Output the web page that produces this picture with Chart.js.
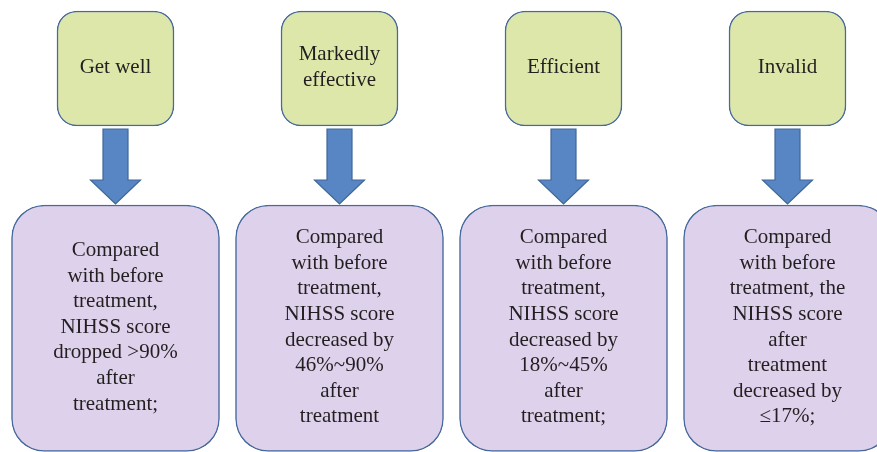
<!DOCTYPE html>
<html>
<head>
<meta charset="utf-8">
<title>NIHSS efficacy criteria</title>
<script src="https://cdn.jsdelivr.net/npm/chart.js@4/dist/chart.umd.min.js"></script>
<style>
  html, body { margin: 0; padding: 0; background: #fff; }
  #wrap { width: 877px; height: 452px; }
</style>
</head>
<body>
<div id="wrap"><canvas id="flow" width="877" height="452"></canvas></div>
<script>
// categories (top boxes) and their descriptions (bottom boxes)
const categories = [
  ["Get well"],
  ["Markedly", "effective"],
  ["Efficient"],
  ["Invalid"]
];
const descriptions = [
  ["Compared", "with before", "treatment,", "NIHSS score", "dropped >90%", "after", "treatment;"],
  ["Compared", "with before", "treatment,", "NIHSS score", "decreased by", "46%~90%", "after", "treatment"],
  ["Compared", "with before", "treatment,", "NIHSS score", "decreased by", "18%~45%", "after", "treatment;"],
  ["Compared", "with before", "treatment, the", "NIHSS score", "after", "treatment", "decreased by", "\u226417%;"]
];
// column positions and vertical spans (in the 0..452 "row" scale)
const columns = [0, 1, 2, 3];
const topSpan = [11, 126];
const bottomSpan = [205, 451.5];

const greenFill = "#dde7a9";
const purpleFill = "#ded1eb";
const edge = "#47699b";
const arrowFill = "#5886c4";
const arrowEdge = "#3f6797";
const textColor = "#231f20";
const font = '21px "Liberation Serif", "DejaVu Serif", serif';
const lineH = 25.6;

// arrows + labels drawn over the boxes
const flowPlugin = {
  id: "flowText",
  afterDatasetsDraw(chart) {
    const ctx = chart.ctx;
    const xs = chart.scales.x, ys = chart.scales.y;
    ctx.save();
    columns.forEach((c, i) => {
      const cx = xs.getPixelForValue(c);
      // arrow between the two boxes
      const y0 = ys.getPixelForValue(topSpan[1]) + 3;
      const y2 = ys.getPixelForValue(bottomSpan[0]) - 1;
      const y1 = y2 - 24;
      ctx.beginPath();
      ctx.moveTo(cx - 12.5, y0);
      ctx.lineTo(cx + 12.5, y0);
      ctx.lineTo(cx + 12.5, y1);
      ctx.lineTo(cx + 25, y1);
      ctx.lineTo(cx, y2);
      ctx.lineTo(cx - 25, y1);
      ctx.lineTo(cx - 12.5, y1);
      ctx.closePath();
      ctx.fillStyle = arrowFill;
      ctx.fill();
      ctx.lineWidth = 1.2;
      ctx.strokeStyle = arrowEdge;
      ctx.stroke();

      ctx.fillStyle = textColor;
      ctx.font = font;
      ctx.textAlign = "center";
      ctx.textBaseline = "middle";
      // top label
      let mid = ys.getPixelForValue((topSpan[0] + topSpan[1]) / 2) - 1;
      let lines = categories[i];
      lines.forEach((t, k) => {
        ctx.fillText(t, cx, mid + (k - (lines.length - 1) / 2) * lineH);
      });
      // description
      mid = ys.getPixelForValue((bottomSpan[0] + bottomSpan[1]) / 2) - 1;
      lines = descriptions[i];
      lines.forEach((t, k) => {
        ctx.fillText(t, cx, mid + (k - (lines.length - 1) / 2) * lineH);
      });
    });
    ctx.restore();
  }
};

new Chart(document.getElementById("flow"), {
  type: "bar",
  data: {
    datasets: [
      {
        data: columns.map(c => ({ x: c, y: topSpan })),
        backgroundColor: greenFill,
        borderColor: edge,
        borderWidth: 1.5,
        borderSkipped: false,
        borderRadius: 20,
        barThickness: 117,
        grouped: false
      },
      {
        data: columns.map(c => ({ x: c, y: bottomSpan })),
        backgroundColor: purpleFill,
        borderColor: edge,
        borderWidth: 1.5,
        borderSkipped: false,
        borderRadius: 33,
        barThickness: 208,
        grouped: false
      }
    ]
  },
  options: {
    responsive: false,
    animation: false,
    layout: { padding: 0 },
    plugins: { legend: { display: false }, tooltip: { enabled: false } },
    scales: {
      x: { type: "linear", display: false, offset: false, min: -115.5 / 224, max: (877 - 115.5) / 224 },
      y: { type: "linear", display: false, offset: false, reverse: true, min: 0, max: 452 }
    }
  },
  plugins: [flowPlugin]
});
</script>
</body>
</html>
